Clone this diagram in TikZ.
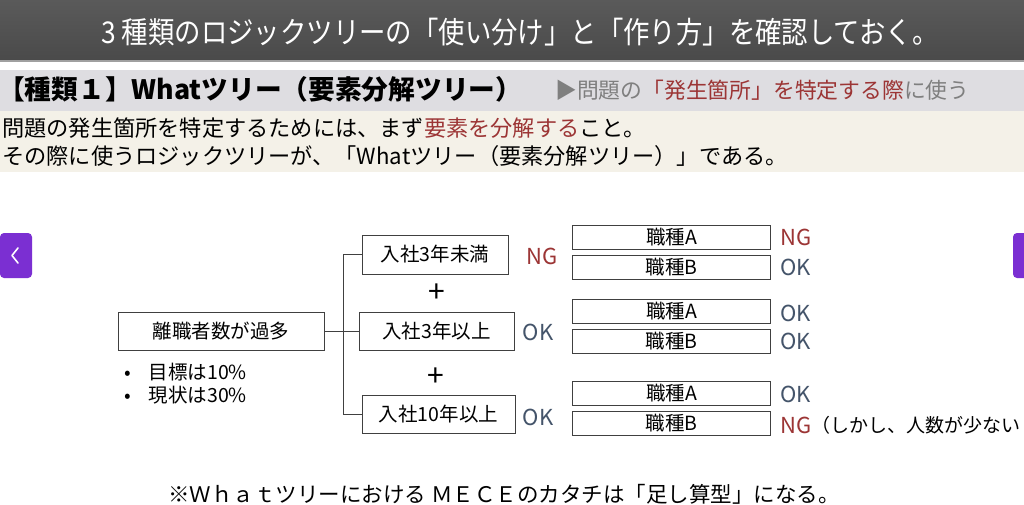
\documentclass[tikz,border=0pt]{standalone}
\usepackage{fontspec}
\setmainfont{Noto Sans CJK JP}
\newfontfamily\condf[FakeStretch=0.88]{Noto Sans CJK JP}
\definecolor{bartop}{HTML}{5A5A5A}
\definecolor{barbot}{HTML}{4A4A4A}
\definecolor{barline}{HTML}{A0A0A0}
\definecolor{hdrband}{HTML}{DEDDE1}
\definecolor{beige}{HTML}{F4F1E8}
\definecolor{darkred}{HTML}{9C3535}
\definecolor{slate}{HTML}{44546A}
\definecolor{btn}{HTML}{7B2FD2}
\definecolor{linec}{HTML}{404040}
\definecolor{graytxt}{HTML}{7F7F7F}
\tikzset{
  tbox/.style={draw=linec, line width=1pt, fill=white, inner sep=0pt, font=\fontsize{19.5}{22}\selectfont},
  sbox/.style={draw=linec, line width=1pt, fill=white, inner sep=0pt, minimum width=198pt, minimum height=24pt, font=\fontsize{19.5}{21}\selectfont},
  conn/.style={draw=linec, line width=1pt},
  ng/.style={text=darkred, inner sep=0pt, font=\fontsize{22}{24}\selectfont},
  ok/.style={text=slate, inner sep=0pt, font=\fontsize{22}{24}\selectfont},
  plain/.style={inner sep=0pt},
}
\begin{document}
\begin{tikzpicture}[x=1pt,y=-1pt]
\clip (0,0) rectangle (1024,505);
\fill[white] (0,0) rectangle (1024,505);
% top bar
\shade[top color=bartop, bottom color=barbot] (0,0) rectangle (1024,60);
\fill[barline] (0,60) rectangle (1024,62);
\node[plain, text=white] (title) at (520,32) {\condf\fontsize{30}{33}\selectfont 3 種類のロジックツリーの「使い分け」と「作り方」を確認しておく。};
% header band
\fill[hdrband] (0,70) rectangle (1024,111);
\node[plain, anchor=west] (h1) at (-2,89) {\bfseries\fontsize{26.7}{29}\selectfont 【種類１】Whatツリー（要素分解ツリー）};
\node[plain, anchor=west, text=graytxt] (h2) at (555,90) {\fontsize{21.8}{24}\selectfont ▶問題の\textcolor{darkred}{「発生箇所」を特定する際}に使う};
% description band
\fill[beige] (0,111) rectangle (1024,172);
\node[plain, anchor=west] (d1) at (2,128) {\fontsize{22.2}{24}\selectfont 問題の発生箇所を特定するためには、まず\textcolor{darkred}{要素を分解する}こと。};
\node[plain, anchor=west] (d2) at (2,156) {\fontsize{22.2}{24}\selectfont その際に使うロジックツリーが、「Whatツリー（要素分解ツリー）」である。};
% nav buttons
\fill[btn, rounded corners=4pt] (0,233) rectangle (32,278);
\draw[white, line width=1.6pt, line cap=round, line join=round] (18,248) -- (12,255.5) -- (18,263);
\fill[btn, rounded corners=4pt] (1013,233) rectangle (1040,278);
% tree
\node[tbox, minimum width=206pt, minimum height=38pt] (root) at (221,331) {離職者数が過多};
\node[tbox, minimum width=146pt, minimum height=39pt] (b1) at (435,254.5) {入社3年未満};
\node[tbox, minimum width=155pt, minimum height=38pt] (b2) at (436.5,331) {入社3年以上};
\node[tbox, minimum width=153pt, minimum height=38pt] (b3) at (438.5,414) {入社10年以上};
\coordinate (jn) at (343,331);
\draw[conn] (root.east) -- (jn);
\draw[conn] (b1.west) -| (jn);
\draw[conn] (jn) -- (b2.west);
\draw[conn] (b3.west) -| (jn);
\node[plain, font=\fontsize{30}{30}\selectfont] (p1) at (437,293) {+};
\node[plain, font=\fontsize{30}{30}\selectfont] (p2) at (436,377) {+};
\node[plain, anchor=west, font=\fontsize{19.5}{21}\selectfont] (bl1) at (124,372) {•\hspace{18pt}目標は10\%};
\node[plain, anchor=west, font=\fontsize{19.5}{21}\selectfont] (bl2) at (124,395) {•\hspace{18pt}現状は30\%};
\node[ng] (m1) at (542,256.5) {NG};
\node[ok] (m2) at (538,332) {OK};
\node[ok] (m3) at (538,417) {OK};
% small boxes
\node[sbox] (a1) at (671.5,237) {職種A};
\node[sbox] (c1) at (671.5,267.5) {職種B};
\node[sbox] (a2) at (671.5,311.5) {職種A};
\node[sbox] (c2) at (671.5,341.5) {職種B};
\node[sbox] (a3) at (671.5,393.5) {職種A};
\node[sbox] (c3) at (671.5,423.5) {職種B};
\node[ng, anchor=west] (r1) at (780,237) {NG};
\node[ok, anchor=west] (r2) at (780,267) {OK};
\node[ok, anchor=west] (r3) at (780,313) {OK};
\node[ok, anchor=west] (r4) at (780,341) {OK};
\node[ok, anchor=west] (r5) at (780,394) {OK};
\node[ng, anchor=west] (r6) at (780,425) {NG};
\node[plain, anchor=west, font=\fontsize{19}{21}\selectfont] (r6t) at (r6.east) {（しかし、人数が少ない};
% bottom note
\node[plain] (note) at (504,494) {\fontsize{21.5}{24}\selectfont ※Ｗｈａｔツリーにおける ＭＥＣＥのカタチは「足し算型」になる。};
\end{tikzpicture}
\end{document}
